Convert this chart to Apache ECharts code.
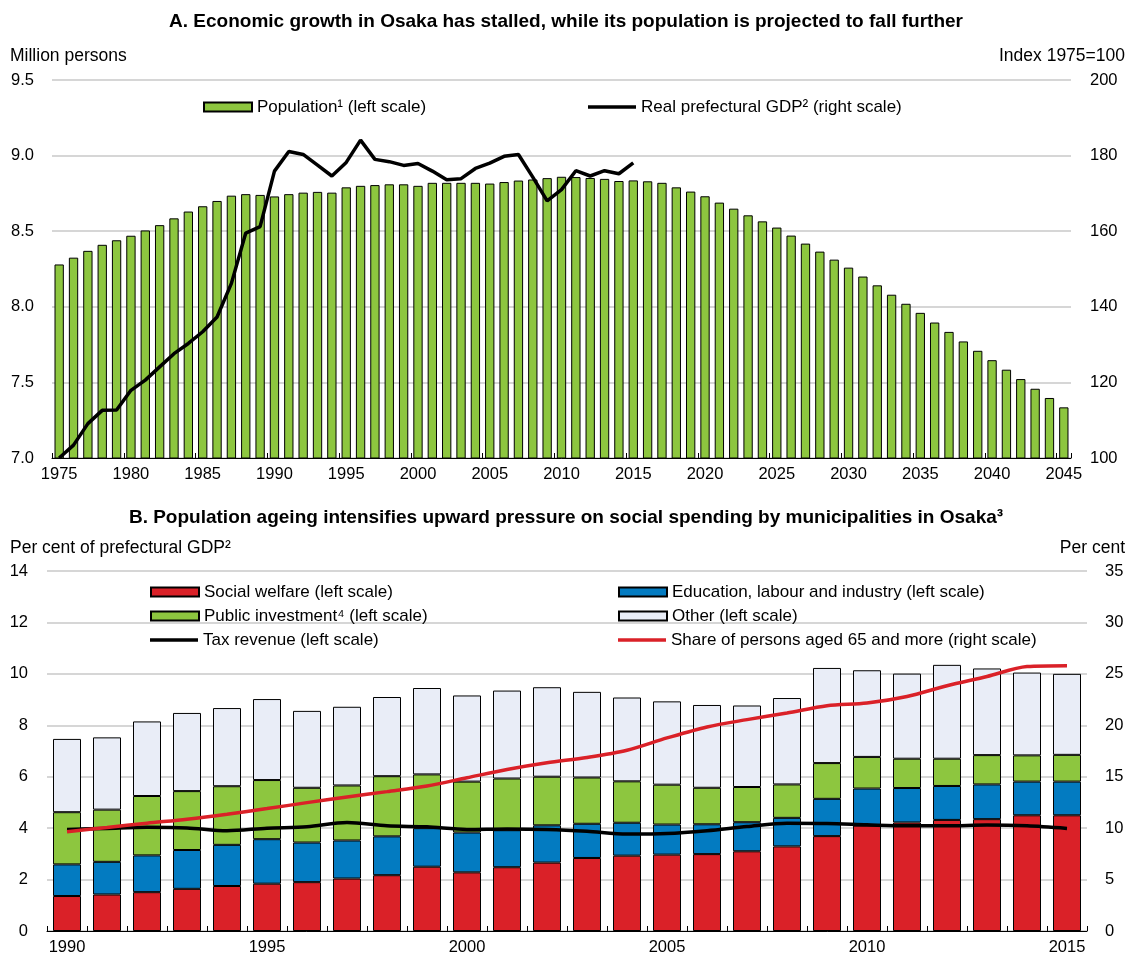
<!DOCTYPE html>
<html>
<head>
<meta charset="utf-8">
<script src="https://cdn.jsdelivr.net/npm/echarts@6/dist/echarts.min.js"></script>
<style>
  html, body { margin: 0; padding: 0; background: #ffffff; }
  #chart { width: 1133px; height: 956px; }
</style>
</head>
<body>
<div id="chart"></div>
<script>
// ---- Panel A: population (million persons) and real prefectural GDP (index 1975=100)
const popYears = ['1975','1976','1977','1978','1979','1980','1981','1982','1983','1984',
  '1985','1986','1987','1988','1989','1990','1991','1992','1993','1994',
  '1995','1996','1997','1998','1999','2000','2001','2002','2003','2004',
  '2005','2006','2007','2008','2009','2010','2011','2012','2013','2014',
  '2015','2016','2017','2018','2019','2020','2021','2022','2023','2024',
  '2025','2026','2027','2028','2029','2030','2031','2032','2033','2034',
  '2035','2036','2037','2038','2039','2040','2041','2042','2043','2044','2045'];

const population = [8.28, 8.325, 8.37, 8.41, 8.44, 8.47, 8.505, 8.54, 8.585, 8.63,
  8.665, 8.70, 8.735, 8.745, 8.74, 8.73, 8.745, 8.755, 8.76, 8.755,
  8.79, 8.80, 8.805, 8.81, 8.81, 8.80, 8.82, 8.82, 8.82, 8.82,
  8.815, 8.825, 8.835, 8.842, 8.851, 8.86, 8.858, 8.852, 8.846, 8.832,
  8.836, 8.83, 8.82, 8.79, 8.762, 8.731, 8.689, 8.649, 8.605, 8.565,
  8.524, 8.471, 8.418, 8.365, 8.312, 8.259, 8.200, 8.142, 8.08, 8.02,
  7.96, 7.896, 7.834, 7.771, 7.709, 7.647, 7.584, 7.522, 7.458, 7.397, 7.335];

// GDP index is observed up to 2015 only
const realGdp = [100, 103.4, 109.1, 112.6, 112.7, 117.9, 120.6, 124.1, 127.6, 130.3,
  133.4, 137.3, 146.2, 159.5, 161.2, 175.9, 181.1, 180.3, 177.5, 174.6,
  178.2, 184.1, 179.0, 178.4, 177.4, 177.9, 175.9, 173.6, 173.9, 176.6,
  178.0, 179.8, 180.3, 174.3, 168.0, 171.0, 176.0, 174.6, 176.0, 175.2, 178.1];

// ---- Panel B: municipal spending by function (% of prefectural GDP), tax revenue, share aged 65+
const spendYears = ['1990','1991','1992','1993','1994','1995','1996','1997','1998','1999',
  '2000','2001','2002','2003','2004','2005','2006','2007','2008','2009',
  '2010','2011','2012','2013','2014','2015'];

const socialWelfare = [1.36, 1.42, 1.51, 1.64, 1.75, 1.84, 1.90, 2.04, 2.17, 2.50,
  2.28, 2.48, 2.66, 2.84, 2.93, 2.97, 2.99, 3.10, 3.29, 3.69,
  4.10, 4.22, 4.32, 4.35, 4.50, 4.50];
const education = [1.23, 1.27, 1.43, 1.51, 1.60, 1.73, 1.54, 1.48, 1.51, 1.50,
  1.55, 1.44, 1.45, 1.33, 1.28, 1.17, 1.16, 1.13, 1.11, 1.45,
  1.44, 1.34, 1.32, 1.35, 1.31, 1.31];
const publicInvestment = [2.03, 2.03, 2.31, 2.29, 2.28, 2.30, 2.13, 2.14, 2.34, 2.09,
  1.98, 2.01, 1.89, 1.80, 1.61, 1.55, 1.42, 1.37, 1.30, 1.39,
  1.23, 1.14, 1.06, 1.14, 1.02, 1.04];
const otherSpending = [2.85, 2.81, 2.90, 3.04, 3.04, 3.15, 2.99, 3.06, 3.08, 3.36,
  3.35, 3.42, 3.48, 3.33, 3.26, 3.24, 3.22, 3.17, 3.36, 3.70,
  3.37, 3.31, 3.65, 3.37, 3.22, 3.15];
const taxRevenue = [3.95, 3.99, 4.03, 4.01, 3.90, 4.00, 4.05, 4.22, 4.09, 4.05,
  3.95, 3.97, 3.95, 3.88, 3.77, 3.79, 3.90, 4.06, 4.19, 4.18,
  4.13, 4.09, 4.09, 4.12, 4.09, 3.99];
const share65 = [9.65, 10.06, 10.48, 10.87, 11.35, 11.9, 12.48, 13.03, 13.55, 14.1,
  14.9, 15.7, 16.35, 16.87, 17.58, 18.77, 19.84, 20.55, 21.19, 21.9,
  22.16, 22.8, 23.84, 24.74, 25.71, 25.8];

const FONT = "'Liberation Sans', Arial, sans-serif";
const FS = 17;        // legend text
const CAPTION_FS = 17.5; // unit captions above the axes
const TITLE_FS = 19;  // panel titles
const TICK_FS = 16.5; // axis tick labels
const GREEN = '#8DC63F', RED = '#DA2128', BLUE = '#037BC1', OTHER = '#E9EDF7';
const GRID_LINE = { show: true, lineStyle: { color: '#C8C8C8', width: 1.5 } };
const labelStyle = { color: '#000', fontFamily: FONT, fontSize: TICK_FS };
const barBorder = { borderColor: '#000', borderWidth: 1 };

function txt(text, x, y, align, bold) {
  return {
    type: 'text', x: x, y: y, silent: true,
    style: {
      text: text, textAlign: align, textVerticalAlign: 'middle', fill: '#000',
      fontFamily: FONT, fontSize: bold ? TITLE_FS : CAPTION_FS, fontWeight: bold ? 'bold' : 'normal'
    }
  };
}

const legendText = { color: '#000', fontFamily: FONT, fontSize: FS, lineHeight: 20 };
function legend(items, left, top, lineIcon) {
  return {
    data: items.map(n => ({ name: n, icon: 'rect' })),
    orient: 'vertical', left: left, top: top, padding: 0, itemGap: 4,
    itemWidth: 48, itemHeight: lineIcon ? 3.5 : 9, textStyle: legendText
  };
}

const chart = echarts.init(document.getElementById('chart'), null, { renderer: 'canvas' });

chart.setOption({
  animation: false,
  backgroundColor: '#fff',
  graphic: [
    txt('A. Economic growth in Osaka has stalled, while its population is projected to fall further', 566, 22, 'center', true),
    txt('Million persons', 10, 56, 'left', false),
    txt('Index 1975=100', 1125, 56, 'right', false),
    txt('B. Population ageing intensifies upward pressure on social spending by municipalities in Osaka\u00B3', 566, 518, 'center', true),
    txt('Per cent of prefectural GDP\u00B2', 10, 548, 'left', false),
    txt('Per cent', 1125, 548, 'right', false)
  ],
  legend: [
    legend(['Population\u00B9 (left scale)'], 203, 97, false),
    legend(['Real prefectural GDP\u00B2 (right scale)'], 588, 97, true),
    legend(['Social welfare (left scale)', 'Public investment\u2074 (left scale)'], 150, 582, false),
    legend(['Tax revenue (left scale)'], 150, 630, true),
    legend(['Education, labour and industry (left scale)', 'Other (left scale)'], 618, 582, false),
    legend(['Share of persons aged 65 and more (right scale)'], 618, 630, true)
  ],
  grid: [
    { left: 52, right: 62, top: 80, height: 378 },
    { left: 47, right: 46, top: 571, height: 361 }
  ],
  xAxis: [
    { type: 'category', gridIndex: 0, data: popYears, boundaryGap: true,
      axisLine: { lineStyle: { color: '#000', width: 1 } },
      axisTick: { show: true, interval: 4, inside: true, length: 5, lineStyle: { color: '#000' } },
      axisLabel: Object.assign({ interval: 4, margin: 8 }, labelStyle) },
    { type: 'category', gridIndex: 1, data: spendYears, boundaryGap: true,
      axisLine: { lineStyle: { color: '#000', width: 1 } },
      axisTick: { show: true, interval: 0, inside: true, length: 5, lineStyle: { color: '#000' } },
      axisLabel: Object.assign({ interval: 4, margin: 8 }, labelStyle) }
  ],
  yAxis: [
    { type: 'value', gridIndex: 0, min: 7, max: 9.5, interval: 0.5, position: 'left',
      axisLine: { show: false }, axisTick: { show: false }, splitLine: GRID_LINE,
      axisLabel: Object.assign({ margin: 18, formatter: v => v.toFixed(1) }, labelStyle) },
    { type: 'value', gridIndex: 0, min: 100, max: 200, interval: 20, position: 'right',
      axisLine: { show: false }, axisTick: { show: false }, splitLine: { show: false },
      axisLabel: Object.assign({ margin: 19 }, labelStyle) },
    { type: 'value', gridIndex: 1, min: 0, max: 14, interval: 2, position: 'left',
      axisLine: { show: false }, axisTick: { show: false }, splitLine: GRID_LINE,
      axisLabel: Object.assign({ margin: 19 }, labelStyle) },
    { type: 'value', gridIndex: 1, min: 0, max: 35, interval: 5, position: 'right',
      axisLine: { show: false }, axisTick: { show: false }, splitLine: { show: false },
      axisLabel: Object.assign({ margin: 18 }, labelStyle) }
  ],
  series: [
    { name: 'Population\u00B9 (left scale)', type: 'bar', xAxisIndex: 0, yAxisIndex: 0,
      data: population, barCategoryGap: '35%',
      itemStyle: Object.assign({ color: GREEN }, barBorder) },
    { name: 'Real prefectural GDP\u00B2 (right scale)', type: 'line', xAxisIndex: 0, yAxisIndex: 1,
      data: realGdp, symbol: 'none', lineStyle: { color: '#000', width: 3.5 },
      itemStyle: { color: '#000' }, z: 5 },

    { name: 'Social welfare (left scale)', type: 'bar', stack: 'spend', xAxisIndex: 1, yAxisIndex: 2,
      data: socialWelfare, barCategoryGap: '30%', itemStyle: Object.assign({ color: RED }, barBorder) },
    { name: 'Education, labour and industry (left scale)', type: 'bar', stack: 'spend', xAxisIndex: 1, yAxisIndex: 2,
      data: education, itemStyle: Object.assign({ color: BLUE }, barBorder) },
    { name: 'Public investment\u2074 (left scale)', type: 'bar', stack: 'spend', xAxisIndex: 1, yAxisIndex: 2,
      data: publicInvestment, itemStyle: Object.assign({ color: GREEN }, barBorder) },
    { name: 'Other (left scale)', type: 'bar', stack: 'spend', xAxisIndex: 1, yAxisIndex: 2,
      data: otherSpending, itemStyle: Object.assign({ color: OTHER }, barBorder) },
    { name: 'Tax revenue (left scale)', type: 'line', xAxisIndex: 1, yAxisIndex: 2,
      data: taxRevenue, symbol: 'none', smooth: 0.3, lineStyle: { color: '#000', width: 3.5 },
      itemStyle: { color: '#000' }, z: 5 },
    { name: 'Share of persons aged 65 and more (right scale)', type: 'line', xAxisIndex: 1, yAxisIndex: 3,
      data: share65, symbol: 'none', smooth: 0.3, lineStyle: { color: RED, width: 3.5 },
      itemStyle: { color: RED }, z: 6 }
  ]
});
</script>
</body>
</html>
